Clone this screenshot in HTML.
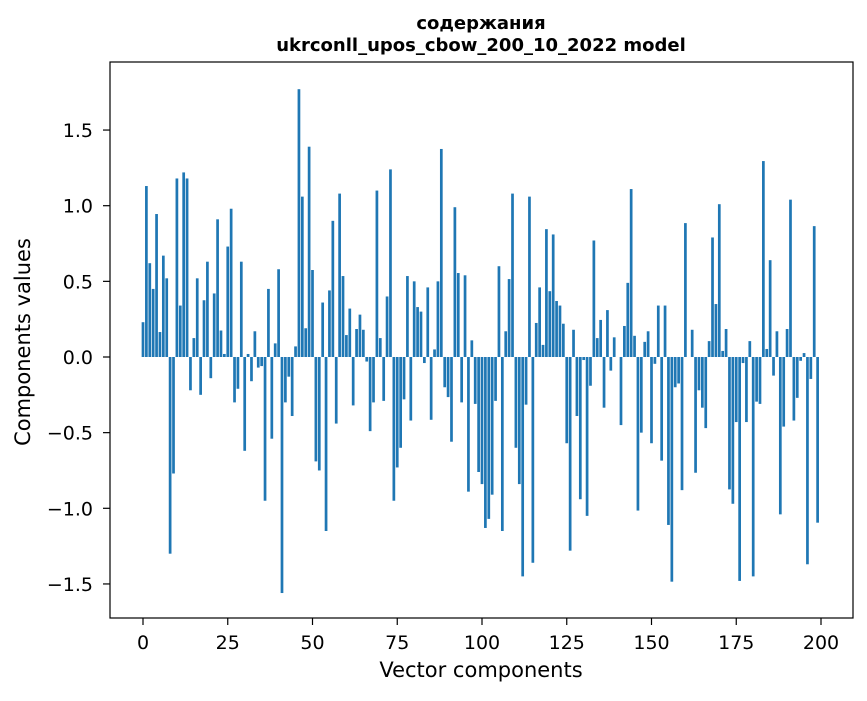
<!DOCTYPE html>
<html><head><meta charset="utf-8"><style>
body{margin:0;background:#fff}
svg text{font-family:"DejaVu Sans","Liberation Sans",sans-serif;fill:#000}
</style></head><body>
<svg id="chart" width="867" height="696" xmlns="http://www.w3.org/2000/svg">
<rect width="867" height="696" fill="#fff"/>
<text x="481" y="29" text-anchor="middle" font-size="18" font-weight="bold">содержания</text>
<text x="481" y="51" text-anchor="middle" font-size="18" font-weight="bold">ukrconll_upos_cbow_200_10_2022 model</text>
<g id="bars"></g>
<g id="xticks"></g>
<g id="yticks"></g>
<rect x="110" y="62" width="743" height="556" fill="none" stroke="#000" stroke-width="1.2"/>
<text x="481" y="677" text-anchor="middle" font-size="21">Vector components</text>
<text transform="translate(30,342) rotate(-90)" text-anchor="middle" font-size="21">Components values</text>
</svg>
<script>
const values = [0.23,1.13,0.62,0.45,0.945,0.165,0.67,0.52,-1.30,-0.77,
1.18,0.34,1.22,1.18,-0.22,0.125,0.52,-0.25,0.375,0.63,
-0.14,0.42,0.91,0.175,0.02,0.73,0.98,-0.30,-0.21,0.63,
-0.62,0.02,-0.16,0.17,-0.07,-0.06,-0.95,0.45,-0.54,0.09,
0.58,-1.56,-0.30,-0.13,-0.39,0.07,1.77,1.06,0.19,1.39,
0.575,-0.69,-0.75,0.36,-1.15,0.44,0.90,-0.44,1.08,0.535,
0.145,0.32,-0.32,0.185,0.28,0.18,-0.03,-0.49,-0.30,1.10,
0.125,-0.29,0.40,1.24,-0.95,-0.73,-0.60,-0.28,0.535,-0.42,
0.50,0.33,0.30,-0.04,0.46,-0.415,0.05,0.50,1.375,-0.20,
-0.265,-0.56,0.99,0.555,-0.30,0.54,-0.89,0.11,-0.31,-0.76,
-0.84,-1.13,-1.07,-0.91,-0.29,0.60,-1.15,0.17,0.515,1.08,
-0.60,-0.84,-1.45,-0.315,1.06,-1.36,0.225,0.46,0.08,0.845,
0.435,0.81,0.37,0.34,0.22,-0.57,-1.28,0.18,-0.39,-0.94,
-0.02,-1.05,-0.19,0.77,0.125,0.245,-0.335,0.31,-0.09,0.13,
0.0,-0.45,0.205,0.49,1.11,0.14,-1.015,-0.50,0.10,0.17,
-0.57,-0.045,0.34,-0.685,0.34,-1.11,-1.485,-0.20,-0.175,-0.88,
0.885,0.0,0.18,-0.765,-0.22,-0.335,-0.47,0.105,0.79,0.35,
1.01,0.04,0.185,-0.875,-0.97,-0.43,-1.48,-0.04,-0.43,0.105,
-1.45,-0.295,-0.31,1.295,0.053,0.64,-0.123,0.17,-1.04,-0.46,
0.185,1.04,-0.42,-0.27,-0.025,0.026,-1.37,-0.145,0.865,-1.095];
const xTickValues = [0,25,50,75,100,125,150,175,200];
const yTickValues = [-1.5,-1.0,-0.5,0.0,0.5,1.0,1.5];

const NS = "http://www.w3.org/2000/svg";
function xScale(i){ return 143 + i * 3.39; }
function yScale(v){ return 357 - v * 151.3; }
const barW = 0.8 * 3.39;
const gb = document.getElementById('bars');
values.forEach((v, i) => {
  const r = document.createElementNS(NS, 'rect');
  const y0 = yScale(0), y1 = yScale(v);
  r.setAttribute('x', xScale(i) - barW / 2);
  r.setAttribute('y', Math.min(y0, y1));
  r.setAttribute('width', barW);
  r.setAttribute('height', Math.max(Math.abs(y1 - y0), 0.01));
  r.setAttribute('fill', '#1f77b4');
  
  
  gb.appendChild(r);
});
const gx = document.getElementById('xticks');
xTickValues.forEach(t => {
  const x = xScale(t);
  const l = document.createElementNS(NS, 'line');
  l.setAttribute('x1', x); l.setAttribute('x2', x);
  l.setAttribute('y1', 618); l.setAttribute('y2', 625);
  l.setAttribute('stroke', '#000');
  l.setAttribute('stroke-width', '1.2');
  
  
  gx.appendChild(l);
  const tx = document.createElementNS(NS, 'text');
  tx.setAttribute('x', x); tx.setAttribute('y', 649);
  tx.setAttribute('text-anchor', 'middle');
  tx.setAttribute('font-size', '19');
  tx.textContent = String(t);
  
  
  gx.appendChild(tx);
});
const gy = document.getElementById('yticks');
yTickValues.forEach(t => {
  const y = yScale(t);
  const l = document.createElementNS(NS, 'line');
  l.setAttribute('x1', 103); l.setAttribute('x2', 110);
  l.setAttribute('y1', y); l.setAttribute('y2', y);
  l.setAttribute('stroke', '#000');
  l.setAttribute('stroke-width', '1.2');
  
  
  gy.appendChild(l);
  const tx = document.createElementNS(NS, 'text');
  tx.setAttribute('x', 93); tx.setAttribute('y', y + 7);
  tx.setAttribute('text-anchor', 'end');
  tx.setAttribute('font-size', '19');
  tx.textContent = (t < 0 ? '\u2212' : '') + Math.abs(t).toFixed(1);
  
  
  gy.appendChild(tx);
});
</script>
</body></html>
